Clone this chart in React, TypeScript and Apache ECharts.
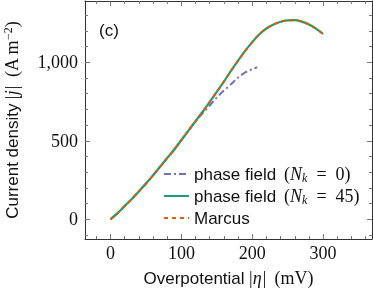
import React, { useEffect, useRef } from "react";
import * as echarts from "echarts";

const xGrid = [0, 10, 20, 30, 40, 50, 60, 70, 80, 90, 100, 110, 120, 130, 140, 150, 160, 170, 180, 190, 200, 210, 220, 230, 240, 250, 260, 270, 280, 290, 300];
const phaseField45 = [0, 40, 85, 130, 178, 228, 280, 335, 390, 445, 505, 565, 625, 685, 748, 812, 877, 945, 1010, 1072, 1128, 1178, 1215, 1240, 1258, 1267, 1268, 1259, 1241, 1214, 1180];
const marcus = [0, 40, 85, 130, 178, 228, 280, 335, 390, 445, 505, 565, 625, 685, 748, 812, 877, 945, 1010, 1072, 1128, 1178, 1215, 1240, 1258, 1267, 1268, 1259, 1241, 1214, 1180];
const xPhase0 = [0, 10, 20, 30, 40, 50, 60, 70, 80, 90, 100, 110, 120, 130, 140, 150, 160, 170, 180, 190, 200, 207];
const phaseField0 = [0, 40, 85, 130, 178, 228, 280, 335, 390, 445, 505, 565, 625, 675, 725, 775, 820, 860, 902, 935, 955, 968];

const xMajorTicks = [0, 100, 200, 300];
const xMinorTicks = [-20, 20, 40, 60, 80, 120, 140, 160, 180, 220, 240, 260, 280, 320, 340, 360];
const yMajorTicks = [0, 500, 1000];
const yMinorTicks = [-100, 100, 200, 300, 400, 600, 700, 800, 900, 1100, 1200, 1300];

const seriesNames = ["pf0", "pf45", "marcus"];

const X_MIN = -36;
const X_MAX = 369;
const Y_MIN = -125;
const Y_MAX = 1390;

const AXIS_COLOR = "#333";
const SERIF = "'Liberation Serif', 'DejaVu Serif', serif";
const SANS = "'Liberation Sans', Arial, sans-serif";

export default function App() {
  const ref = useRef<HTMLDivElement>(null);
  useEffect(() => {
    if (!ref.current) return;
    const chart = echarts.init(ref.current, null, { renderer: "svg" });

    const xAxisCfg = (pos: "bottom" | "top", major: boolean, showLabel: boolean, showLine: boolean, withName: boolean) => ({
      type: "value",
      position: pos,
      min: X_MIN,
      max: X_MAX,
      splitLine: { show: false },
      axisLine: { show: showLine, onZero: false, lineStyle: { color: AXIS_COLOR, width: 1 } },
      axisTick: {
        show: true,
        inside: true,
        length: major ? 5 : 3,
        customValues: major ? xMajorTicks : xMinorTicks,
        lineStyle: { color: "#777", width: 1 },
      },
      axisLabel: {
        show: showLabel,
        customValues: xMajorTicks,
        margin: 5,
        fontFamily: SERIF,
        fontSize: 18,
        color: "#111",
      },
      name: withName ? "{s|Overpotential} {i||η|} {m| (mV)}" : "",
      nameLocation: "middle",
      nameGap: 30,
      nameTextStyle: {
        rich: {
          s: { fontFamily: SANS, fontSize: 17, color: "#111" },
          i: { fontFamily: SERIF, fontStyle: "italic", fontSize: 18, color: "#111" },
          m: { fontFamily: SERIF, fontSize: 18, color: "#111" },
        },
      },
    });

    const yAxisCfg = (pos: "left" | "right", major: boolean, showLabel: boolean, showLine: boolean, withName: boolean) => ({
      type: "value",
      position: pos,
      min: Y_MIN,
      max: Y_MAX,
      splitLine: { show: false },
      axisLine: { show: showLine, onZero: false, lineStyle: { color: AXIS_COLOR, width: 1 } },
      axisTick: {
        show: true,
        inside: true,
        length: major ? 5 : 3,
        customValues: major ? yMajorTicks : yMinorTicks,
        lineStyle: { color: "#777", width: 1 },
      },
      axisLabel: {
        show: showLabel,
        customValues: yMajorTicks,
        margin: 7,
        fontFamily: SERIF,
        fontSize: 18,
        color: "#111",
        formatter: (v: number) => v.toLocaleString("en-US"),
      },
      name: withName ? "{s|Current density} {i||j|} {m| (A m}{sup|−2}{m|)}" : "",
      nameLocation: "middle",
      nameGap: 63,
      nameTextStyle: {
        rich: {
          s: { fontFamily: SANS, fontSize: 17, color: "#111" },
          i: { fontFamily: SERIF, fontStyle: "italic", fontSize: 18, color: "#111" },
          m: { fontFamily: SERIF, fontSize: 18, color: "#111" },
          sup: { fontFamily: SERIF, fontSize: 12, color: "#111", verticalAlign: "top", padding: [0, 0, 8, 0] },
        },
      },
    });

    const legendRich = {
      s: { fontFamily: SANS, fontSize: 17, color: "#111", lineHeight: 20, verticalAlign: "middle" },
      i: { fontFamily: SERIF, fontStyle: "italic", fontSize: 18, color: "#111", lineHeight: 20, verticalAlign: "middle" },
      m: { fontFamily: SERIF, fontSize: 18, color: "#111", lineHeight: 20, verticalAlign: "middle" },
      sub: { fontFamily: SERIF, fontStyle: "italic", fontSize: 12, color: "#111", lineHeight: 20, verticalAlign: "bottom" },
    };
    const legendText: Record<string, string> = {
      pf0: "{s|phase field} {m| (}{i|N}{sub|k}{m|  =  0)}",
      pf45: "{s|phase field} {m| (}{i|N}{sub|k}{m|  =  45)}",
      marcus: "{s|Marcus}",
    };

    chart.setOption({
      animation: false,
      grid: { left: 85, right: 1, top: 1, bottom: 55, outerBoundsMode: "none", containLabel: false },
      xAxis: [
        xAxisCfg("bottom", true, true, true, true),
        xAxisCfg("bottom", false, false, false, false),
        xAxisCfg("top", true, false, true, false),
        xAxisCfg("top", false, false, false, false),
      ],
      yAxis: [
        yAxisCfg("left", true, true, true, true),
        yAxisCfg("left", false, false, false, false),
        yAxisCfg("right", true, false, true, false),
        yAxisCfg("right", false, false, false, false),
      ],
      legend: {
        orient: "vertical",
        left: 163,
        top: 164,
        padding: 0,
        itemWidth: 25,
        itemHeight: 12,
        itemGap: 2,
        data: seriesNames,
        formatter: (n: string) => legendText[n],
        textStyle: { rich: legendRich, lineHeight: 20 },
        itemStyle: { opacity: 0 },
      },
      graphic: [
        {
          type: "text",
          left: 99,
          top: 22,
          style: { text: "(c)", fontFamily: SANS, fontSize: 17, fill: "#111" },
        },
      ],
      series: [
        {
          name: seriesNames[0],
          type: "line",
          smooth: 0.3,
          symbol: "none",
          data: xPhase0.map((x, i) => [x, phaseField0[i]]),
          lineStyle: { color: "#7570b3", width: 2, type: [7, 3, 2, 3] },
          itemStyle: { color: "#7570b3" },
        },
        {
          name: seriesNames[1],
          type: "line",
          smooth: 0.3,
          symbol: "none",
          data: xGrid.map((x, i) => [x, phaseField45[i]]),
          lineStyle: { color: "#1b9e77", width: 2.2, type: "solid" },
          itemStyle: { color: "#1b9e77" },
        },
        {
          name: seriesNames[2],
          type: "line",
          smooth: 0.3,
          symbol: "none",
          data: xGrid.map((x, i) => [x, marcus[i]]),
          lineStyle: { color: "#d95f02", width: 2, type: [4, 4] },
          itemStyle: { color: "#d95f02" },
        },
      ],
    });
    return () => chart.dispose();
  }, []);
  return <div ref={ref} style={{ position: "fixed", left: 0, top: 0, width: 373, height: 294 }} />;
}
